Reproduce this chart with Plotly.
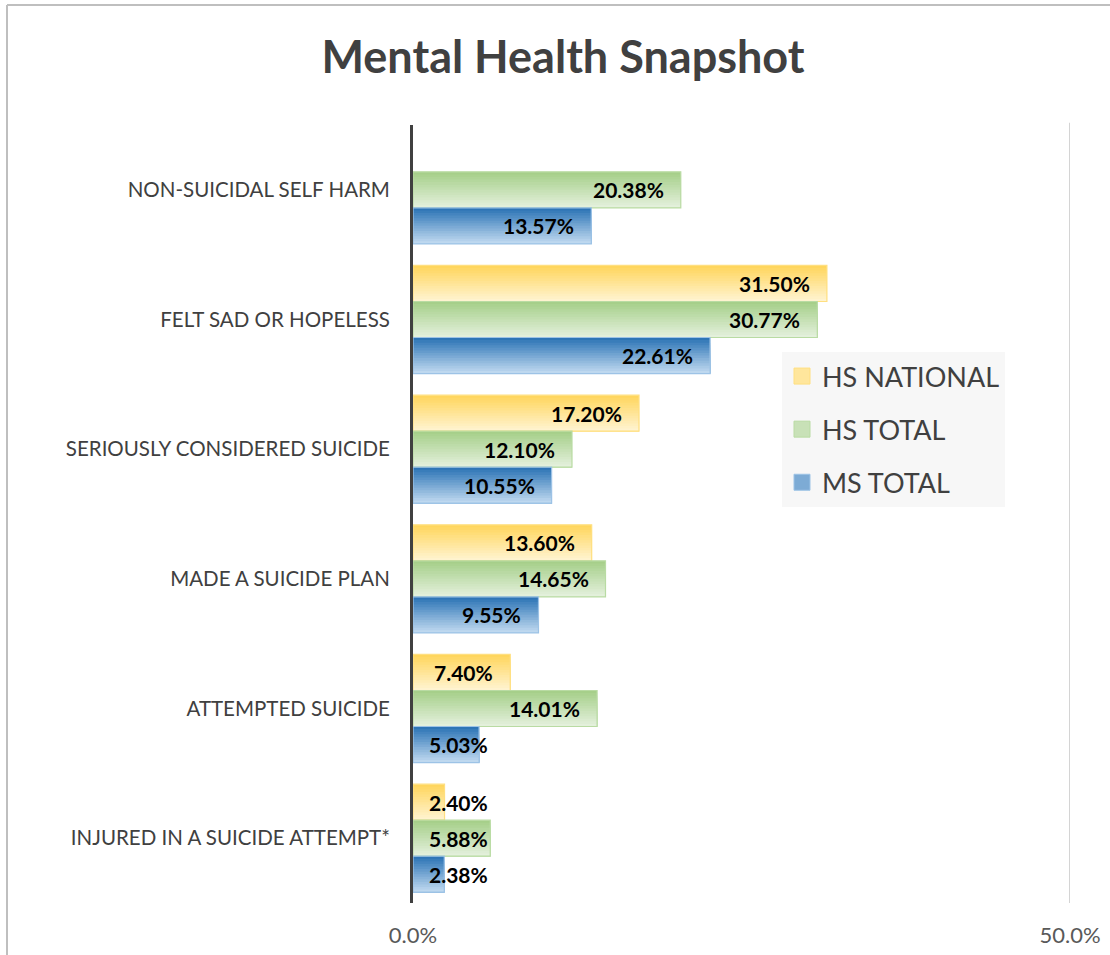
import plotly.graph_objects as go

categories = ["NON-SUICIDAL SELF HARM", "FELT SAD OR HOPELESS", "SERIOUSLY CONSIDERED SUICIDE",
              "MADE A SUICIDE PLAN", "ATTEMPTED SUICIDE", "INJURED IN A SUICIDE ATTEMPT*"]
series_names = ["HS NATIONAL", "HS TOTAL", "MS TOTAL"]
hs_national = [None, 31.50, 17.20, 13.60, 7.40, 2.40]
hs_total = [20.38, 30.77, 12.10, 14.65, 14.01, 5.88]
ms_total = [13.57, 22.61, 10.55, 9.55, 5.03, 2.38]
x_ticks = [0, 50]
x_tick_labels = ["0.0%", "50.0%"]

series_values = [hs_national, hs_total, ms_total]
top_cols = [(255, 214, 94), (166, 207, 138), (46, 117, 182)]
bot_cols = [(255, 243, 207), (227, 240, 219), (190, 216, 239)]
edge_cols = ["#ffdf80", "#b9dba3", "#9dc3e6"]

FONT = "Lato"
W, H = 1110, 955
L, R, T, B = 413, 40, 125, 52
plot_w = W - L - R
plot_h = H - T - B

bar_w = 0.2778
offsets = [-1.5 * bar_w, -0.5 * bar_w, 0.5 * bar_w]
N = 14

fig = go.Figure()
for s, (name, vals) in enumerate(zip(series_names, series_values)):
    for j in range(N):
        t = j / (N - 1)
        c = tuple(round(top_cols[s][k] + (bot_cols[s][k] - top_cols[s][k]) * t) for k in range(3))
        fig.add_trace(go.Bar(
            x=vals, y=categories, orientation="h",
            offset=offsets[s] + j * bar_w / N, width=bar_w - j * bar_w / N,
            marker=dict(color="rgb(%d,%d,%d)" % c, line=dict(width=0)),
            name=name, legendgroup=name, showlegend=False, hoverinfo="skip",
        ))
    mid = tuple(round(top_cols[s][k] * 0.45 + bot_cols[s][k] * 0.55) for k in range(3))
    fig.add_trace(go.Bar(
        x=vals, y=categories, orientation="h",
        offset=offsets[s], width=bar_w,
        marker=dict(color="rgba(0,0,0,0)", line=dict(width=1.2, color=edge_cols[s])),
        name=name, legendgroup=name, showlegend=False, hoverinfo="skip",
    ))
    fig.add_trace(go.Scatter(
        x=[None], y=[None], mode="markers",
        marker=dict(symbol="square", size=16, color="rgb(%d,%d,%d)" % mid,
                    line=dict(width=1, color=edge_cols[s])),
        name=name, legendgroup=name, showlegend=True,
    ))

px_per_unit = plot_w / 50.0
annotations = []
for s, vals in enumerate(series_values):
    for i, v in enumerate(vals):
        if v is None:
            continue
        txt = "%.2f%%" % v
        tw = 12 * len(txt)
        ycen = i + offsets[s] + bar_w / 2
        lab_font = dict(family=FONT, size=21, color="#000000", weight="bold")
        if v * px_per_unit - 16 - tw >= 15:
            annotations.append(dict(x=v, y=ycen, xref="x", yref="y", text=txt, showarrow=False,
                                    xanchor="right", xshift=-15, yanchor="middle", font=lab_font))
        else:
            annotations.append(dict(x=0, y=ycen, xref="x", yref="y", text=txt, showarrow=False,
                                    xanchor="left", xshift=14, yanchor="middle", font=lab_font))

shapes = [
    dict(type="line", xref="paper", yref="paper",
         x0=(7 - L) / plot_w, x1=(7 - L) / plot_w, y0=(H - B - 5) / plot_h, y1=(H - B - H) / plot_h,
         line=dict(color="#bfbfbf", width=2)),
    dict(type="line", xref="paper", yref="paper",
         x0=(7 - L) / plot_w, x1=(W - L) / plot_w, y0=(H - B - 5) / plot_h, y1=(H - B - 5) / plot_h,
         line=dict(color="#bfbfbf", width=2)),
    dict(type="line", xref="x", yref="paper", x0=50, x1=50, y0=0, y1=1.003,
         line=dict(color="#d4d4d4", width=2), layer="below"),
]

fig.update_layout(
    width=W, height=H,
    margin=dict(l=L, r=R, t=T, b=B, autoexpand=False),
    paper_bgcolor="white", plot_bgcolor="rgba(0,0,0,0)",
    barmode="overlay",
    title=dict(text="Mental Health Snapshot", x=563 / W, xanchor="center", y=1 - 57 / H, yanchor="middle",
               font=dict(family=FONT, size=45, color="#404040", weight="bold")),
    xaxis=dict(range=[0, 50], tickvals=x_ticks, ticktext=x_tick_labels, showgrid=False,
               zeroline=False, showline=False, automargin=False,
               ticks="outside", ticklen=13, tickcolor="rgba(0,0,0,0)",
               tickfont=dict(family=FONT, size=22, color="#595959")),
    yaxis=dict(autorange="reversed", showline=True, linecolor="#404040", linewidth=3,
               showgrid=False, automargin=False, ticks="outside", ticklen=16, tickcolor="rgba(0,0,0,0)",
               tickfont=dict(family=FONT, size=20.5, color="#404040")),
    legend=dict(x=(782 - L) / plot_w, y=(H - B - 352) / plot_h, xanchor="left", yanchor="top",
                bgcolor="#f7f7f7", font=dict(family=FONT, size=27, color="#404040"),
                traceorder="grouped", tracegroupgap=15, itemsizing="trace",
                entrywidth=212, entrywidthmode="pixels"),
    annotations=annotations,
    shapes=shapes,
    showlegend=True,
)

fig.write_html("out.html", config={"displayModeBar": False},
               post_script="document.body.style.margin='0px';document.body.style.overflow='hidden';")
